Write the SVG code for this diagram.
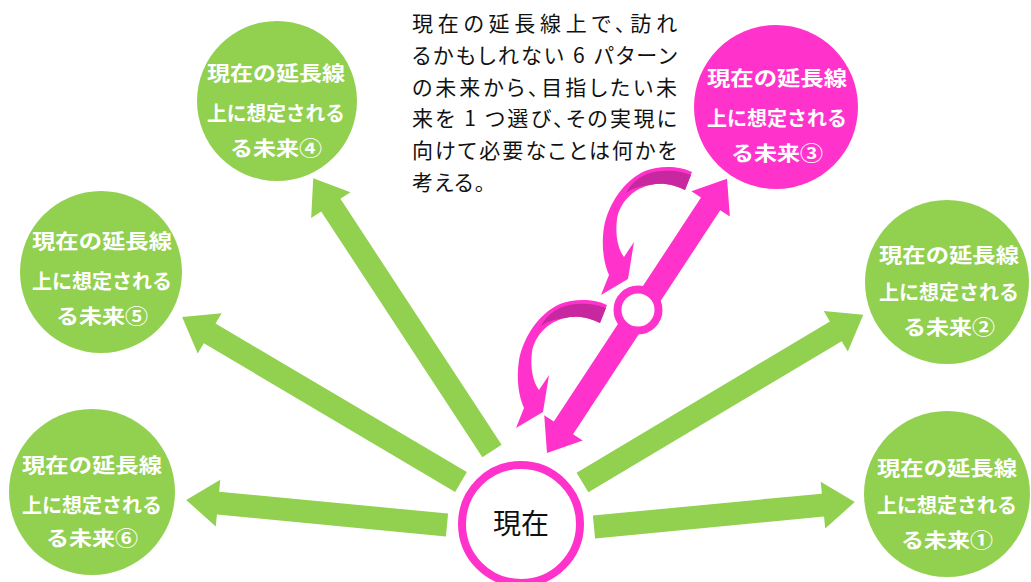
<svg xmlns="http://www.w3.org/2000/svg" xmlns:xlink="http://www.w3.org/1999/xlink" width="1031" height="582" viewBox="0 0 1031 582">
<style>
.g{fill:#92D050}
.pk{fill:#FF33CC}
.dk{fill:#C7289F}
.lbl{font-family:"Noto Sans CJK JP","Noto Sans",sans-serif;font-size:20.5px;font-weight:bold;fill:#FFFFFF;text-anchor:middle}
.note{font-family:"Noto Sans CJK JP","Noto Sans",sans-serif;font-size:21px;fill:#111111;font-feature-settings:"palt"}
.now{font-family:"Noto Sans CJK JP","Noto Sans",sans-serif;font-size:28px;fill:#111111;text-anchor:middle}
</style>
<defs>
<g id="curved">
<path class="pk" d="M607,305 C595,299 575,298 560,304 C540,313 524,335 519,360 C516,380 519,397 524,408 L516,428 L543,412 L549,375 L539,390 C533,382 530,368 532,352 C535,335 548,322 565,318 C578,315 590,318 600,323 Z"/>
<path class="dk" d="M606,308 C594,303 576,302 562,307 C552,311 545,318 541,326 C548,321 556,319 565,318 C578,315 590,318 600,323 Z"/>
</g>
</defs>
<rect width="1031" height="582" fill="#FFFFFF"/>
<g id="connectors">
<path class="g" transform="translate(594,527) rotate(-5.47)" d="M0,-11.5 H230 V-23.5 L262,0 L230,23.5 V11.5 H0 Z"/>
<path class="g" transform="translate(582.5,482.5) rotate(-30.84)" d="M0,-11.5 H295 V-23.5 L327,0 L295,23.5 V11.5 H0 Z"/>
<path class="g" transform="translate(492,451) rotate(-123.25)" d="M0,-11.5 H294 V-23.5 L326,0 L294,23.5 V11.5 H0 Z"/>
<path class="g" transform="translate(461,482) rotate(-149.4)" d="M0,-11.5 H292 V-23.5 L324,0 L292,23.5 V11.5 H0 Z"/>
<path class="g" transform="translate(447,525) rotate(-174.53)" d="M0,-11.5 H230 V-23.5 L262,0 L230,23.5 V11.5 H0 Z"/>
<path class="pk" transform="translate(547,453) rotate(-56.7)" d="M0,0 L30,-23 V-11.5 H298 V-23 L328,0 L298,23 V11.5 H30 V23 Z"/>
<circle cx="638" cy="310" r="20.5" fill="#FFFFFF" stroke="#FF33CC" stroke-width="8"/>
<use xlink:href="#curved"/>
<use xlink:href="#curved" transform="translate(85,-133)"/>
</g>
<g id="node-now">
<circle cx="521" cy="524" r="59" fill="#FFFFFF" stroke="#FF33CC" stroke-width="8"/>
<text class="now" x="521" y="534">現在</text>
</g>
<g id="node-future1">
<circle class="g" cx="947" cy="494" r="83"/>
<text class="lbl" x="947" y="476" textLength="140" lengthAdjust="spacingAndGlyphs">現在の延長線</text>
<text class="lbl" x="947" y="513" textLength="140" lengthAdjust="spacingAndGlyphs">上に想定される</text>
<text class="lbl" x="947" y="548" textLength="92" lengthAdjust="spacingAndGlyphs">る未来①</text>
</g>
<g id="node-future2">
<circle class="g" cx="947" cy="282" r="82"/>
<text class="lbl" x="949" y="263" textLength="140" lengthAdjust="spacingAndGlyphs">現在の延長線</text>
<text class="lbl" x="949" y="300" textLength="140" lengthAdjust="spacingAndGlyphs">上に想定される</text>
<text class="lbl" x="949" y="335" textLength="92" lengthAdjust="spacingAndGlyphs">る未来②</text>
</g>
<g id="node-future3">
<circle class="pk" cx="776" cy="107" r="82"/>
<text class="lbl" x="777" y="86" textLength="140" lengthAdjust="spacingAndGlyphs">現在の延長線</text>
<text class="lbl" x="777" y="126" textLength="140" lengthAdjust="spacingAndGlyphs">上に想定される</text>
<text class="lbl" x="777" y="161" textLength="92" lengthAdjust="spacingAndGlyphs">る未来③</text>
</g>
<g id="node-future4">
<circle class="g" cx="277" cy="101" r="80"/>
<text class="lbl" x="276" y="81" textLength="138" lengthAdjust="spacingAndGlyphs">現在の延長線</text>
<text class="lbl" x="276" y="121" textLength="138" lengthAdjust="spacingAndGlyphs">上に想定される</text>
<text class="lbl" x="276" y="156" textLength="92" lengthAdjust="spacingAndGlyphs">る未来④</text>
</g>
<g id="node-future5">
<circle class="g" cx="101" cy="272" r="81"/>
<text class="lbl" x="102" y="249" textLength="140" lengthAdjust="spacingAndGlyphs">現在の延長線</text>
<text class="lbl" x="102" y="289" textLength="140" lengthAdjust="spacingAndGlyphs">上に想定される</text>
<text class="lbl" x="102" y="324" textLength="92" lengthAdjust="spacingAndGlyphs">る未来⑤</text>
</g>
<g id="node-future6">
<circle class="g" cx="92" cy="492" r="83"/>
<text class="lbl" x="92" y="473" textLength="140" lengthAdjust="spacingAndGlyphs">現在の延長線</text>
<text class="lbl" x="92" y="513" textLength="140" lengthAdjust="spacingAndGlyphs">上に想定される</text>
<text class="lbl" x="92" y="546" textLength="92" lengthAdjust="spacingAndGlyphs">る未来⑥</text>
</g>
<g id="note">
<text class="note" x="412" y="31" textLength="265" lengthAdjust="spacing">現在の延長線上で、訪れ</text>
<text class="note" x="412" y="63" textLength="265" lengthAdjust="spacing">るかもしれない 6 パターン</text>
<text class="note" x="412" y="95" textLength="265" lengthAdjust="spacing">の未来から、目指したい未</text>
<text class="note" x="412" y="126" textLength="265" lengthAdjust="spacing">来を 1 つ選び、その実現に</text>
<text class="note" x="412" y="158" textLength="265" lengthAdjust="spacing">向けて必要なことは何かを</text>
<text class="note" x="412" y="190" textLength="73" lengthAdjust="spacing">考える。</text>
</g>
</svg>
